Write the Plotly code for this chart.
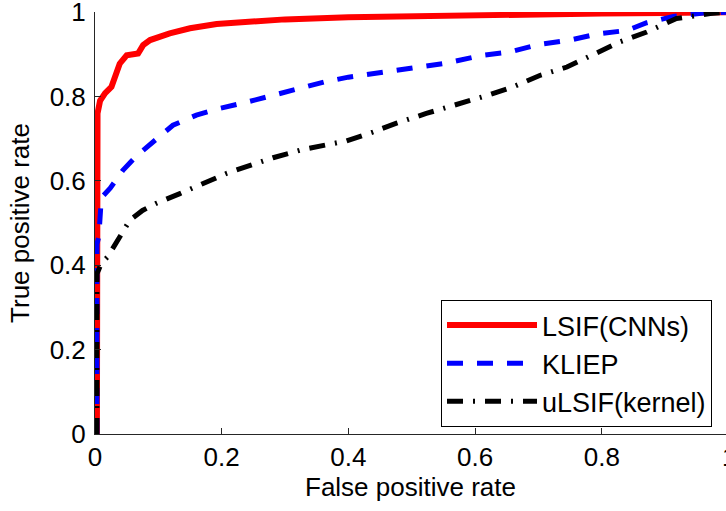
import plotly.graph_objects as go

# ---- data ----
lsif_fpr = [0.003, 0.003, 0.004, 0.008, 0.016, 0.026, 0.034, 0.039, 0.05, 0.068, 0.076, 0.087,
            0.118, 0.15, 0.192, 0.229, 0.3, 0.4, 0.5, 0.6, 0.7, 0.8, 0.9, 0.96, 1.0]
lsif_tpr = [0.0, 0.75, 0.76, 0.79, 0.808, 0.823, 0.855, 0.878, 0.898, 0.902, 0.922, 0.934,
            0.95, 0.962, 0.972, 0.976, 0.983, 0.988, 0.991, 0.994, 0.996, 0.997, 0.998, 1.0, 1.0]

kliep_fpr = [0.003, 0.003, 0.006, 0.008, 0.01, 0.024, 0.044, 0.066, 0.076, 0.097, 0.123, 0.16,
             0.197, 0.24, 0.281, 0.324, 0.363, 0.4, 0.45, 0.5, 0.55, 0.612, 0.655, 0.702,
             0.75, 0.792, 0.84, 0.871, 0.913, 0.96, 1.0]
kliep_tpr = [0.0, 0.45, 0.467, 0.53, 0.56, 0.583, 0.625, 0.66, 0.673, 0.697, 0.732, 0.756,
             0.772, 0.787, 0.803, 0.82, 0.835, 0.846, 0.856, 0.865, 0.878, 0.898, 0.906, 0.924,
             0.934, 0.948, 0.957, 0.975, 0.99, 0.998, 1.0]

ulsif_fpr = [0.003, 0.003, 0.006, 0.01, 0.02, 0.037, 0.055, 0.075, 0.097, 0.134, 0.176, 0.208,
             0.245, 0.281, 0.324, 0.363, 0.397, 0.439, 0.476, 0.523, 0.571, 0.613, 0.66,
             0.702, 0.745, 0.786, 0.829, 0.871, 0.918, 0.971, 1.0]
ulsif_tpr = [0.0, 0.38, 0.39, 0.405, 0.42, 0.462, 0.507, 0.53, 0.547, 0.57, 0.597, 0.618,
             0.637, 0.655, 0.673, 0.686, 0.695, 0.716, 0.737, 0.76, 0.78, 0.8, 0.823,
             0.85, 0.87, 0.9, 0.93, 0.953, 0.985, 0.997, 1.0]

series_names = ["LSIF(CNNs)", "KLIEP", "uLSIF(kernel)"]
x_ticks = [0, 0.2, 0.4, 0.6, 0.8]
y_ticks = [0, 0.2, 0.4, 0.6, 0.8, 1.0]

FONT = "Liberation Sans, Arial, Helvetica, sans-serif"
FS = 26

fig = go.Figure()
fig.add_trace(go.Scatter(x=lsif_fpr, y=lsif_tpr, mode="lines", name=series_names[0],
                         line=dict(color="#ff0000", width=6)))
fig.add_trace(go.Scatter(x=kliep_fpr, y=kliep_tpr, mode="lines", name=series_names[1],
                         line=dict(color="#0000ff", width=5, dash="16px,14px")))
fig.add_trace(go.Scatter(x=ulsif_fpr, y=ulsif_tpr, mode="lines", name=series_names[2],
                         line=dict(color="#000000", width=5, dash="16px,10px,2px,10px")))

axis_common = dict(showgrid=False, zeroline=False, showline=True, linecolor="#262626",
                   linewidth=1, ticks="inside", ticklen=6, tickcolor="#262626",
                   automargin=False, ticklabeloverflow="allow",
                   tickfont=dict(family=FONT, size=FS, color="black"))

fig.update_layout(
    width=726, height=511,
    margin=dict(l=95, r=0, t=12, b=77),
    paper_bgcolor="white", plot_bgcolor="white",
    font=dict(family=FONT, size=FS, color="black"),
    xaxis=dict(range=[0, 0.9961], tickvals=x_ticks, ticktext=[f"{v:g}" for v in x_ticks],
               title=dict(text="False positive rate", standoff=5,
                          font=dict(family=FONT, size=FS)),
               ticklabelstandoff=0, **axis_common),
    yaxis=dict(range=[0, 1.0005], tickvals=y_ticks, ticktext=[f"{v:g}" for v in y_ticks],
               title=dict(text="True positive rate", standoff=12,
                          font=dict(family=FONT, size=FS)),
               ticklabelstandoff=3, **axis_common),
    legend=dict(x=(441 - 95) / 631, y=(434 - 427) / 422, xanchor="left", yanchor="bottom",
                bgcolor="white", bordercolor="black", borderwidth=1,
                font=dict(family=FONT, size=27), itemwidth=90, tracegroupgap=0),
    showlegend=True,
)

# partially visible tick label at x = 1 (right edge is cut in the original)
fig.add_annotation(text="1", xref="paper", yref="paper", x=(728.5 - 95) / 631, y=0,
                   yshift=-6, xanchor="center", yanchor="top", showarrow=False,
                   font=dict(family=FONT, size=FS, color="black"))

fig.write_html("out.html", config={"displayModeBar": False},
               post_script="document.body.style.margin='0';")
